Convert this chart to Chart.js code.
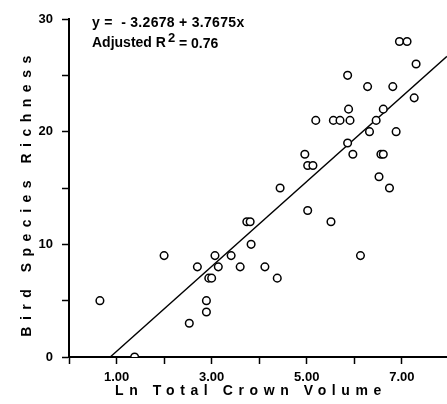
<!DOCTYPE html>
<html>
<head>
<meta charset="utf-8">
<script src="https://cdn.jsdelivr.net/npm/chart.js@4"></script>
<style>
  html, body { margin: 0; padding: 0; background: #fff; }
  #wrap { width: 447px; height: 404px; }
</style>
</head>
<body>
<div id="wrap"><canvas id="chart"></canvas></div>
<script>
// Ln total crown volume vs bird species richness
const lnCrownVolume = [
  0.65, 1.38, 2.00, 2.53, 2.70, 2.89, 2.89, 2.94, 3.00, 3.07,
  3.14, 3.41, 3.60, 3.74, 3.81, 3.83, 4.12, 4.38, 4.44, 4.96,
  5.02, 5.13, 5.02, 5.19, 5.51, 5.56, 5.70, 5.91, 5.88, 5.86,
  5.86, 5.97, 6.13, 6.28, 6.32, 6.46, 6.61, 6.56, 6.61, 6.52,
  6.74, 6.81, 6.88, 6.95, 7.11, 7.30, 7.26
];
const speciesRichness = [
  5, 0, 9, 3, 8, 5, 4, 7, 7, 9,
  8, 9, 8, 12, 12, 10, 8, 7, 15, 18,
  17, 17, 13, 21, 12, 21, 21, 21, 22, 25,
  19, 18, 9, 24, 20, 21, 22, 18, 18, 16,
  15, 24, 20, 28, 28, 26, 23
];

// fitted line: y = intercept + slope * x
const intercept = -3.2678;
const slope = 3.7675;
const xMin = 0, xMax = 7.95;
const yMin = 0, yMax = 30;
const xLabelledTicks = [1, 3, 5, 7];
const yLabelledTicks = [0, 10, 20, 30];

const points = lnCrownVolume.map((x, i) => ({ x: x, y: speciesRichness[i] }));
const lineStart = -intercept / slope;
const fitLine = [
  { x: lineStart, y: 0 },
  { x: xMax, y: intercept + slope * xMax }
];

const FONT = '"Liberation Sans", Arial, Helvetica, sans-serif';

// axis titles + equation, drawn after the chart
const textPlugin = {
  id: 'textPlugin',
  afterDraw(chart) {
    const ctx = chart.ctx;
    ctx.save();
    ctx.fillStyle = '#000';
    ctx.textBaseline = 'middle';

    // x title
    ctx.font = 'bold 14px ' + FONT;
    ctx.letterSpacing = '5.6px';
    ctx.textAlign = 'center';
    ctx.fillText('Ln Total Crown Volume', 251, 391);

    // y title
    ctx.letterSpacing = '6.5px';
    ctx.save();
    ctx.translate(27, 193);
    ctx.rotate(-Math.PI / 2);
    ctx.fillText('Bird Species Richness', 0, 0);
    ctx.restore();

    // equation
    ctx.textAlign = 'left';
    ctx.font = 'bold 14px ' + FONT;
    ctx.letterSpacing = '0.3px';
    ctx.fillText('y =  - 3.2678 + 3.7675x', 92, 23);
    ctx.letterSpacing = '0px';
    const lead = 'Adjusted R';
    ctx.fillText(lead, 92, 43);
    let x = 92 + ctx.measureText(lead).width + 2;
    ctx.font = 'bold 13px ' + FONT;
    ctx.fillText('2', x, 38);
    x += ctx.measureText('2').width;
    ctx.font = 'bold 14px ' + FONT;
    ctx.fillText(' = 0.76', x, 44);
    ctx.restore();
  }
};

const axisGrid = {
  drawOnChartArea: false,
  drawTicks: true,
  tickLength: 7,
  tickColor: '#000',
  tickWidth: 1.5
};

new Chart(document.getElementById('chart'), {
  type: 'scatter',
  data: {
    datasets: [
      {
        data: points,
        pointStyle: 'circle',
        pointRadius: 3.8,
        pointBorderWidth: 1.5,
        pointBorderColor: '#000',
        pointBackgroundColor: '#fff',
        showLine: false
      },
      {
        type: 'line',
        data: fitLine,
        borderColor: '#000',
        borderWidth: 1.4,
        pointRadius: 0,
        fill: false
      }
    ]
  },
  options: {
    responsive: true,
    maintainAspectRatio: false,
    animation: false,
    events: [],
    layout: {
      autoPadding: false,
      padding: { top: 19, right: 0, left: 0, bottom: 0 }
    },
    plugins: {
      legend: { display: false },
      tooltip: { enabled: false }
    },
    scales: {
      x: {
        type: 'linear',
        min: xMin,
        max: xMax,
        afterFit: s => {
          s.height = 47;
          s.paddingLeft = 0;
          s.paddingRight = 0;
        },
        border: { display: true, color: '#000', width: 2 },
        grid: axisGrid,
        ticks: {
          stepSize: 1,
          includeBounds: false,
          autoSkip: false,
          maxRotation: 0,
          padding: 6,
          color: '#000',
          font: { family: FONT, size: 13, weight: 'bold' },
          callback: v => xLabelledTicks.includes(v) ? v.toFixed(2) : ''
        }
      },
      y: {
        type: 'linear',
        min: yMin,
        max: yMax,
        afterFit: s => { s.width = 69; },
        border: { display: true, color: '#000', width: 2 },
        grid: axisGrid,
        ticks: {
          stepSize: 5,
          autoSkip: false,
          padding: 9,
          color: '#000',
          font: { family: FONT, size: 13, weight: 'bold' },
          callback: v => yLabelledTicks.includes(v) ? String(v) : ''
        }
      }
    }
  },
  plugins: [textPlugin]
});
</script>
</body>
</html>
